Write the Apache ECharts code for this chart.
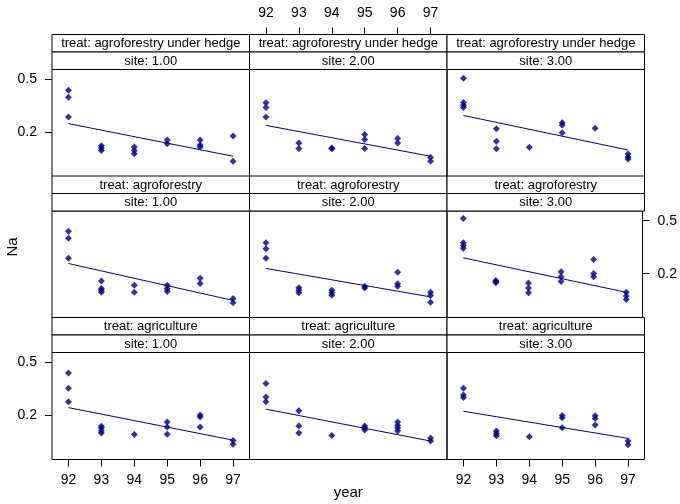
<!DOCTYPE html>
<html>
<head>
<meta charset="utf-8">
<script src="https://cdn.jsdelivr.net/npm/echarts@6/dist/echarts.min.js"></script>
<style>html,body{margin:0;padding:0;background:#fff}#c{width:680px;height:504px}</style>
</head>
<body>
<div id="c"></div>
<script>
// ---------- data ----------
const years = [92, 93, 94, 95, 96, 97];
const yTicks = [0.2, 0.5];
const treatments = ['agroforestry under hedge', 'agroforestry', 'agriculture'];
const sites = ['1.00', '2.00', '3.00'];
const yRange = [0.093, 0.591];
const xRange = [91.5, 97.5];

// points [year, Na] per panel (treat x site)
const auh_s1 = [[92,0.413],[92,0.366],[92,0.260],[93,0.158],[93,0.152],[93,0.146],[94,0.155],[94,0.146],[94,0.138],[95,0.175],[95,0.164],[96,0.175],[96,0.160],[96,0.155],[97,0.187],[97,0.121]];
const auh_s2 = [[92,0.332],[92,0.306],[92,0.260],[93,0.166],[93,0.151],[94,0.152],[94,0.150],[95,0.192],[95,0.176],[95,0.151],[96,0.179],[96,0.166],[97,0.129],[97,0.121]];
const auh_s3 = [[92,0.508],[92,0.334],[92,0.319],[92,0.306],[93,0.212],[93,0.171],[93,0.150],[94,0.154],[95,0.235],[95,0.226],[95,0.198],[96,0.214],[97,0.137],[97,0.130],[97,0.126]];
const af_s1 = [[92,0.417],[92,0.369],[92,0.261],[93,0.176],[93,0.155],[93,0.150],[93,0.145],[94,0.164],[94,0.145],[95,0.164],[95,0.154],[95,0.147],[96,0.185],[96,0.169],[97,0.130],[97,0.121]];
const af_s2 = [[92,0.341],[92,0.308],[92,0.261],[93,0.157],[93,0.150],[93,0.144],[94,0.150],[94,0.144],[94,0.138],[95,0.161],[95,0.156],[96,0.205],[96,0.168],[96,0.161],[97,0.145],[97,0.137],[97,0.122]];
const af_s3 = [[92,0.519],[92,0.341],[92,0.326],[92,0.311],[93,0.178],[93,0.174],[93,0.171],[94,0.170],[94,0.156],[94,0.144],[95,0.207],[95,0.190],[95,0.175],[96,0.256],[96,0.201],[96,0.190],[97,0.145],[97,0.136],[97,0.128]];
const ag_s1 = [[92,0.415],[92,0.319],[92,0.252],[93,0.165],[93,0.160],[93,0.153],[93,0.147],[94,0.143],[95,0.178],[95,0.163],[95,0.144],[96,0.201],[96,0.194],[96,0.163],[97,0.129],[97,0.121]];
const ag_s2 = [[92,0.346],[92,0.274],[92,0.252],[93,0.216],[93,0.166],[93,0.147],[94,0.141],[95,0.166],[95,0.160],[95,0.155],[96,0.178],[96,0.168],[96,0.160],[96,0.152],[97,0.135],[97,0.128]];
const ag_s3 = [[92,0.319],[92,0.283],[92,0.272],[93,0.152],[93,0.146],[93,0.140],[94,0.138],[95,0.199],[95,0.191],[95,0.161],[96,0.198],[96,0.189],[96,0.169],[97,0.128],[97,0.120]];

// fitted line values at 92 and 97, per panel
const fit_auh = [[0.232,0.132],[0.225,0.132],[0.267,0.147]];
const fit_af  = [[0.2385,0.126],[0.219,0.134],[0.263,0.145]];
const fit_ag  = [[0.228,0.130],[0.222,0.128],[0.214,0.134]];

const panels = [[auh_s1, auh_s2, auh_s3],[af_s1, af_s2, af_s3],[ag_s1, ag_s2, ag_s3]];
const fits = [fit_auh, fit_af, fit_ag];

// ---------- layout ----------
const FONT = '"Liberation Sans", Arial, sans-serif';
const NAVY = '#000080';
const colLeft = [52, 249.5, 447];
const colW = 197.5;
const rowTop = [69.5, 211, 352.5];
const plotH = 107;
const stripH = 17.5;
const L = Math.log10;

const grid = [], xAxis = [], yAxis = [], series = [], graphic = [];
for (let r = 0; r < 3; r++) {
  for (let c = 0; c < 3; c++) {
    const gi = r * 3 + c;
    grid.push({left: colLeft[c], top: rowTop[r], width: colW, height: plotH, show: true, borderColor: '#000', borderWidth: 1, backgroundColor: 'transparent'});
    const showX = (r === 0 && c === 1) || (r === 2 && c !== 1);
    xAxis.push({
      gridIndex: gi, type: 'value', min: xRange[0], max: xRange[1],
      position: r === 0 ? 'top' : 'bottom', offset: r === 0 ? 2 * stripH : 0,
      axisLine: {show: false}, splitLine: {show: false},
      axisTick: {show: showX, customValues: years, length: 7, lineStyle: {color: '#000', width: 1}},
      axisLabel: {show: showX, customValues: years, margin: 14, color: '#000', fontSize: 14, fontFamily: FONT}
    });
    const showY = (c === 0 && r !== 1) || (c === 2 && r === 1);
    yAxis.push({
      gridIndex: gi, type: 'value', min: L(yRange[0]), max: L(yRange[1]),
      position: r === 1 ? 'right' : 'left',
      axisLine: {show: false}, splitLine: {show: false},
      axisTick: {show: showY, customValues: yTicks.map(L), length: 7, lineStyle: {color: '#000', width: 1}},
      axisLabel: {show: showY, customValues: yTicks.map(L), margin: 15, color: '#000', fontSize: 14, fontFamily: FONT,
        formatter: v => Math.pow(10, v).toFixed(1)}
    });
    series.push({
      type: 'scatter', xAxisIndex: gi, yAxisIndex: gi, symbol: 'diamond', symbolSize: [7, 7],
      itemStyle: {color: NAVY}, silent: true,
      data: panels[r][c].map(p => [p[0], L(p[1])])
    });
    const f = fits[r][c];
    series.push({
      type: 'line', xAxisIndex: gi, yAxisIndex: gi, symbol: 'none', silent: true,
      lineStyle: {color: NAVY, width: 1},
      data: [[years[0], L(f[0])], [years[years.length - 1], L(f[1])]]
    });
    // strips
    const t1 = rowTop[r] - 2 * stripH, t2 = rowTop[r] - stripH;
    graphic.push({type: 'rect', shape: {x: colLeft[c], y: t1, width: colW, height: stripH}, style: {fill: '#fff', stroke: '#000', lineWidth: 1}});
    graphic.push({type: 'rect', shape: {x: colLeft[c], y: t2, width: colW, height: stripH}, style: {fill: '#fff', stroke: '#000', lineWidth: 1}});
    graphic.push({type: 'text', x: colLeft[c] + colW / 2, y: t1 + stripH / 2 + 0.5, style: {text: 'treat: ' + treatments[r], fill: '#000', font: '13px ' + FONT, textAlign: 'center', textVerticalAlign: 'middle'}});
    graphic.push({type: 'text', x: colLeft[c] + colW / 2, y: t2 + stripH / 2 + 0.5, style: {text: 'site: ' + sites[c], fill: '#000', font: '13px ' + FONT, textAlign: 'center', textVerticalAlign: 'middle'}});
  }
}
graphic.push({type: 'text', x: (colLeft[0] + colLeft[2] + colW) / 2, y: 493, style: {text: 'year', fill: '#000', font: '15px ' + FONT, textAlign: 'center', textVerticalAlign: 'middle'}});
graphic.push({type: 'text', x: 13, y: 247, rotation: Math.PI / 2, style: {text: 'Na', fill: '#000', font: '15px ' + FONT, textAlign: 'center', textVerticalAlign: 'middle'}});

const chart = echarts.init(document.getElementById('c'), null, {renderer: 'canvas'});
chart.setOption({animation: false, backgroundColor: '#fff', grid, xAxis, yAxis, series, graphic});
</script>
</body>
</html>
